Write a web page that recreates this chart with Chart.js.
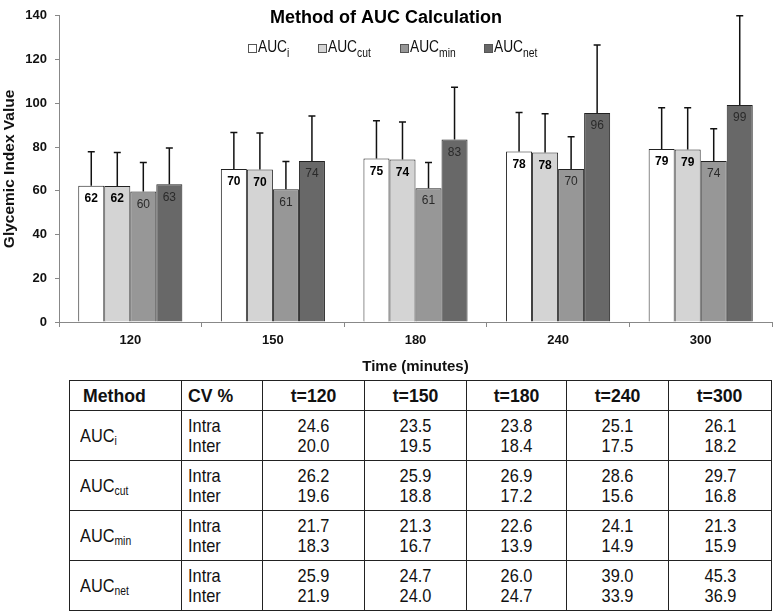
<!DOCTYPE html>
<html>
<head>
<meta charset="utf-8">
<script src="https://cdn.jsdelivr.net/npm/chart.js@4"></script>
<style>
  body { margin: 0; background: #fff; }
  #wrap { position: relative; width: 774px; height: 612px; overflow: hidden; }
  #box { position: absolute; left: 0; top: 0; width: 774px; height: 376px; }
  #cvTable {
    position: absolute; left: 69px; top: 380px; width: 702px;
    border-collapse: collapse; table-layout: fixed;
    font-family: "Liberation Sans", Arial, sans-serif;
    font-size: 19px; color: #111;
  }
  #cvTable td, #cvTable th { border: 1.5px solid #222; padding: 0; vertical-align: middle; }
  #cvTable th { height: 29px; font-weight: bold; font-size: 19px; text-align: center; }
  #cvTable th span { transform: scaleX(0.93); }
  #cvTable td { height: 49px; line-height: 20px; text-align: center; }
  #cvTable .l { text-align: left; }
  #cvTable span { display: inline-block; transform: scaleX(0.86); transform-origin: center; }
  #cvTable .l span { transform-origin: left center; }
  #cvTable sub { font-size: 12px; vertical-align: -3px; line-height: 0; }
</style>
</head>
<body>
<div id="wrap">
  <div id="box"><canvas id="barChart"></canvas></div>
  <table id="cvTable"></table>
</div>
<script>
const times   = ['120', '150', '180', '240', '300'];
const subs    = ['i', 'cut', 'min', 'net'];

// mean glycemic index per method
const aucI   = [62.3, 70.0, 74.7, 78.0, 79.1];
const aucCut = [62.2, 69.7, 74.3, 77.5, 78.9];
const aucMin = [59.7, 60.7, 61.2, 70.0, 73.6];
const aucNet = [63.0, 73.6, 83.4, 95.6, 99.2];

// top of the error bar (mean + SD)
const upI   = [77.8, 86.6, 92.0, 95.8, 98.0];
const upCut = [77.5, 86.4, 91.4, 95.2, 98.0];
const upMin = [72.9, 73.4, 72.9, 84.7, 88.4];
const upNet = [79.6, 94.2, 107.3, 126.7, 140];

// CV % table
const tHeads   = ['t=120', 't=150', 't=180', 't=240', 't=300'];
const intraI   = ['24.6', '23.5', '23.8', '25.1', '26.1'];
const interI   = ['20.0', '19.5', '18.4', '17.5', '18.2'];
const intraCut = ['26.2', '25.9', '26.9', '28.6', '29.7'];
const interCut = ['19.6', '18.8', '17.2', '15.6', '16.8'];
const intraMin = ['21.7', '21.3', '22.6', '24.1', '21.3'];
const interMin = ['18.3', '16.7', '13.9', '14.9', '15.9'];
const intraNet = ['25.9', '24.7', '26.0', '39.0', '45.3'];
const interNet = ['21.9', '24.0', '24.7', '33.9', '36.9'];

const fills  = ['#ffffff', '#d4d4d4', '#979797', '#686868'];
const series = [aucI, aucCut, aucMin, aucNet];
const uppers = [upI, upCut, upMin, upNet];
const FONT = '"Liberation Sans", Arial, sans-serif';

// error bars + value labels
const errorBars = {
  id: 'errorBars',
  afterDatasetsDraw(chart) {
    const ctx = chart.ctx, y = chart.scales.y;
    ctx.save();
    chart.data.datasets.forEach((ds, d) => {
      chart.getDatasetMeta(d).data.forEach((bar, i) => {
        const yt = y.getPixelForValue(uppers[d][i]);
        ctx.strokeStyle = '#111';
        ctx.lineWidth = 1.5;
        ctx.beginPath();
        ctx.moveTo(bar.x, bar.y);
        ctx.lineTo(bar.x, yt);
        ctx.moveTo(bar.x - 3.5, yt);
        ctx.lineTo(bar.x + 3.5, yt);
        ctx.stroke();
        const bold = d < 2;
        ctx.font = (bold ? 'bold ' : '') + '12px ' + FONT;
        ctx.fillStyle = bold ? '#000' : '#2a2a2a';
        ctx.textAlign = 'center';
        ctx.textBaseline = 'middle';
        ctx.fillText(Math.round(ds.data[i]), bar.x, bar.y + 13);
      });
    });
    ctx.restore();
  }
};

// title and legend sit inside the plot area
const overlay = {
  id: 'overlay',
  afterDraw(chart) {
    const ctx = chart.ctx;
    ctx.save();
    ctx.fillStyle = '#000';
    ctx.textAlign = 'center';
    ctx.textBaseline = 'middle';
    ctx.font = 'bold 18px ' + FONT;
    ctx.fillText('Method of AUC Calculation', 386, 18);
    const xs = [248, 318, 400, 484];
    ctx.textBaseline = 'alphabetic';
    ctx.textAlign = 'left';
    subs.forEach((s, k) => {
      ctx.fillStyle = fills[k];
      ctx.fillRect(xs[k], 44, 9, 9);
      ctx.strokeStyle = '#555';
      ctx.lineWidth = 1;
      ctx.strokeRect(xs[k] + 0.5, 44.5, 8, 8);
      ctx.save();
      ctx.translate(xs[k] + 10, 52);
      ctx.scale(0.86, 1);
      ctx.fillStyle = '#111';
      ctx.font = '16px ' + FONT;
      ctx.fillText('AUC', 0, 0);
      const w = ctx.measureText('AUC').width;
      ctx.font = '12px ' + FONT;
      ctx.fillText(s, w, 5);
      ctx.restore();
    });
    ctx.restore();
  }
};

new Chart(document.getElementById('barChart'), {
  type: 'bar',
  data: {
    labels: times,
    datasets: series.map((vals, k) => ({
      label: 'AUC' + subs[k],
      data: vals,
      backgroundColor: fills[k],
      borderColor: '#222',
      borderWidth: 1,
      categoryPercentage: 0.73,
      barPercentage: 1.0,
    }))
  },
  plugins: [errorBars, overlay],
  options: {
    responsive: true,
    maintainAspectRatio: false,
    animation: false,
    layout: { padding: { top: 5, right: 2, left: 0, bottom: 0 } },
    plugins: {
      legend: { display: false },
      title: { display: false },
      tooltip: { enabled: false },
    },
    scales: {
      x: {
        afterFit: s => { s.height = 54; },
        grid: { drawOnChartArea: false, offset: true, tickLength: 5, color: '#888' },
        border: { color: '#888' },
        ticks: { color: '#111', font: { family: FONT, size: 13, weight: 'bold' }, padding: 6 },
        title: {
          display: true, text: 'Time (minutes)', color: '#111',
          font: { family: FONT, size: 15, weight: 'bold' }, padding: { top: 0, bottom: 0 }
        }
      },
      y: {
        min: 0, max: 140,
        afterFit: s => { s.width = 59; },
        grid: { drawOnChartArea: false, tickLength: 4, color: '#888' },
        border: { color: '#888' },
        ticks: { stepSize: 20, color: '#111', font: { family: FONT, size: 13, weight: 'bold' }, padding: 8 },
        title: {
          display: true, text: 'Glycemic Index Value', color: '#111',
          font: { family: FONT, size: 15.5, weight: 'bold' }, padding: { top: 0, bottom: 0 }
        }
      }
    }
  }
});

// build table
const rows = [
  ['i', intraI, interI], ['cut', intraCut, interCut],
  ['min', intraMin, interMin], ['net', intraNet, interNet]
];
const sp = t => '<span>' + t + '</span>';
let html = '<colgroup><col style="width:112px"><col style="width:81px">' +
  '<col style="width:102px"><col style="width:102px"><col style="width:100px">' +
  '<col style="width:102px"><col style="width:103px"></colgroup>';
html += '<tr><th class="l" style="padding-left:13px">' + sp('Method') + '</th>' +
  '<th class="l" style="padding-left:6px">' + sp('CV %') + '</th>' +
  tHeads.map(h => '<th>' + sp(h) + '</th>').join('') + '</tr>';
rows.forEach(r => {
  html += '<tr><td class="l" style="padding-left:10px">' + sp('AUC<sub>' + r[0] + '</sub>') + '</td>' +
    '<td class="l" style="padding-left:6px">' + sp('Intra<br>Inter') + '</td>' +
    r[1].map((v, i) => '<td>' + sp(v + '<br>' + r[2][i]) + '</td>').join('') + '</tr>';
});
document.getElementById('cvTable').innerHTML = html;
</script>
</body>
</html>
